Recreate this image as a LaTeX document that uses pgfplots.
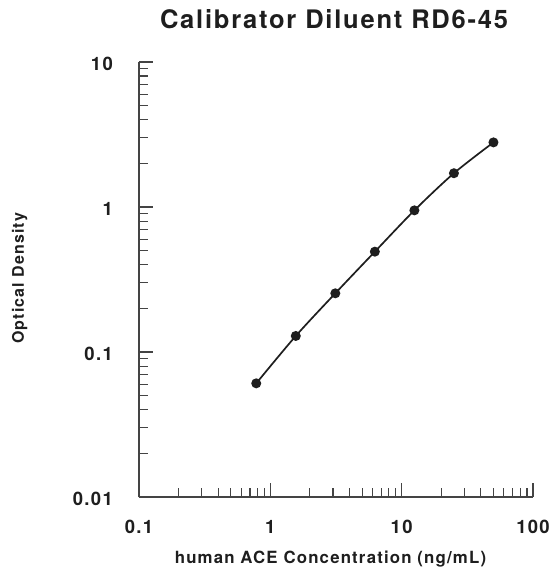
\documentclass[border=0pt]{standalone}
\usepackage{pgfplots}
\pgfplotsset{compat=1.18}
\usepackage{fontspec}
\setmainfont{TeX Gyre Heros}
\newfontfamily\lsfont{TeX Gyre Heros}[LetterSpace=7]
\definecolor{ink}{HTML}{1E1E1E}
\definecolor{axisgray}{HTML}{444444}
\begin{document}
\begin{tikzpicture}
\useasboundingbox (-139pt,-70pt) rectangle (413pt,497pt);
\begin{axis}[
  at={(0pt,0pt)}, anchor=south west,
  scale only axis, width=394pt, height=435pt,
  xmode=log, ymode=log,
  xmin=0.1, xmax=100, ymin=0.01, ymax=10,
  axis x line*=bottom, axis y line*=left,
  axis line style={axisgray, line width=1.1pt, -},
  tick style={axisgray, line width=1.1pt},
  tick align=inside,
  major tick length=14pt, minor tick length=9.5pt,
  xtick={0.1,1,10,100}, xticklabels={0.1,1,10,100},
  ytick={0.01,0.1,1,10}, yticklabels={0.01,0.1,1,10},
  /pgf/number format/assume math mode=true,
  ticklabel style={font=\lsfont\bfseries\fontsize{18.5}{22}\selectfont, text=ink, inner sep=0pt},
  xticklabel style={anchor=base, yshift=-36pt},
  yticklabel style={anchor=east, xshift=-26pt, yshift=-2pt},
  title={Calibrator Diluent RD6-45},
  title style={font=\lsfont\bfseries\fontsize{25.5}{30}\selectfont, text=ink, at={(axis description cs:0.495,1)}, anchor=base, yshift=27pt, inner sep=0pt},
  xlabel={human ACE Concentration (ng/mL)},
  xlabel style={font=\lsfont\bfseries\fontsize{16.8}{20}\selectfont, text=ink, at={(axis description cs:0.486,0)}, anchor=base, yshift=-66pt, inner sep=0pt},
  ylabel={Optical Density},
  ylabel style={font=\lsfont\bfseries\fontsize{16}{19}\selectfont, text=ink, at={(axis description cs:-0.303,0.503)}, anchor=center, inner sep=0pt},
  clip=false,
]
\addplot[ink, line width=1.7pt, smooth, mark=*, mark size=4.1pt, mark options={fill=ink, draw=ink}]
coordinates {
  (0.78125,0.0608)
  (1.5625,0.129)
  (3.125,0.254)
  (6.25,0.492)
  (12.5,0.948)
  (25,1.71)
  (50,2.79)
};
\end{axis}
\end{tikzpicture}
\end{document}
